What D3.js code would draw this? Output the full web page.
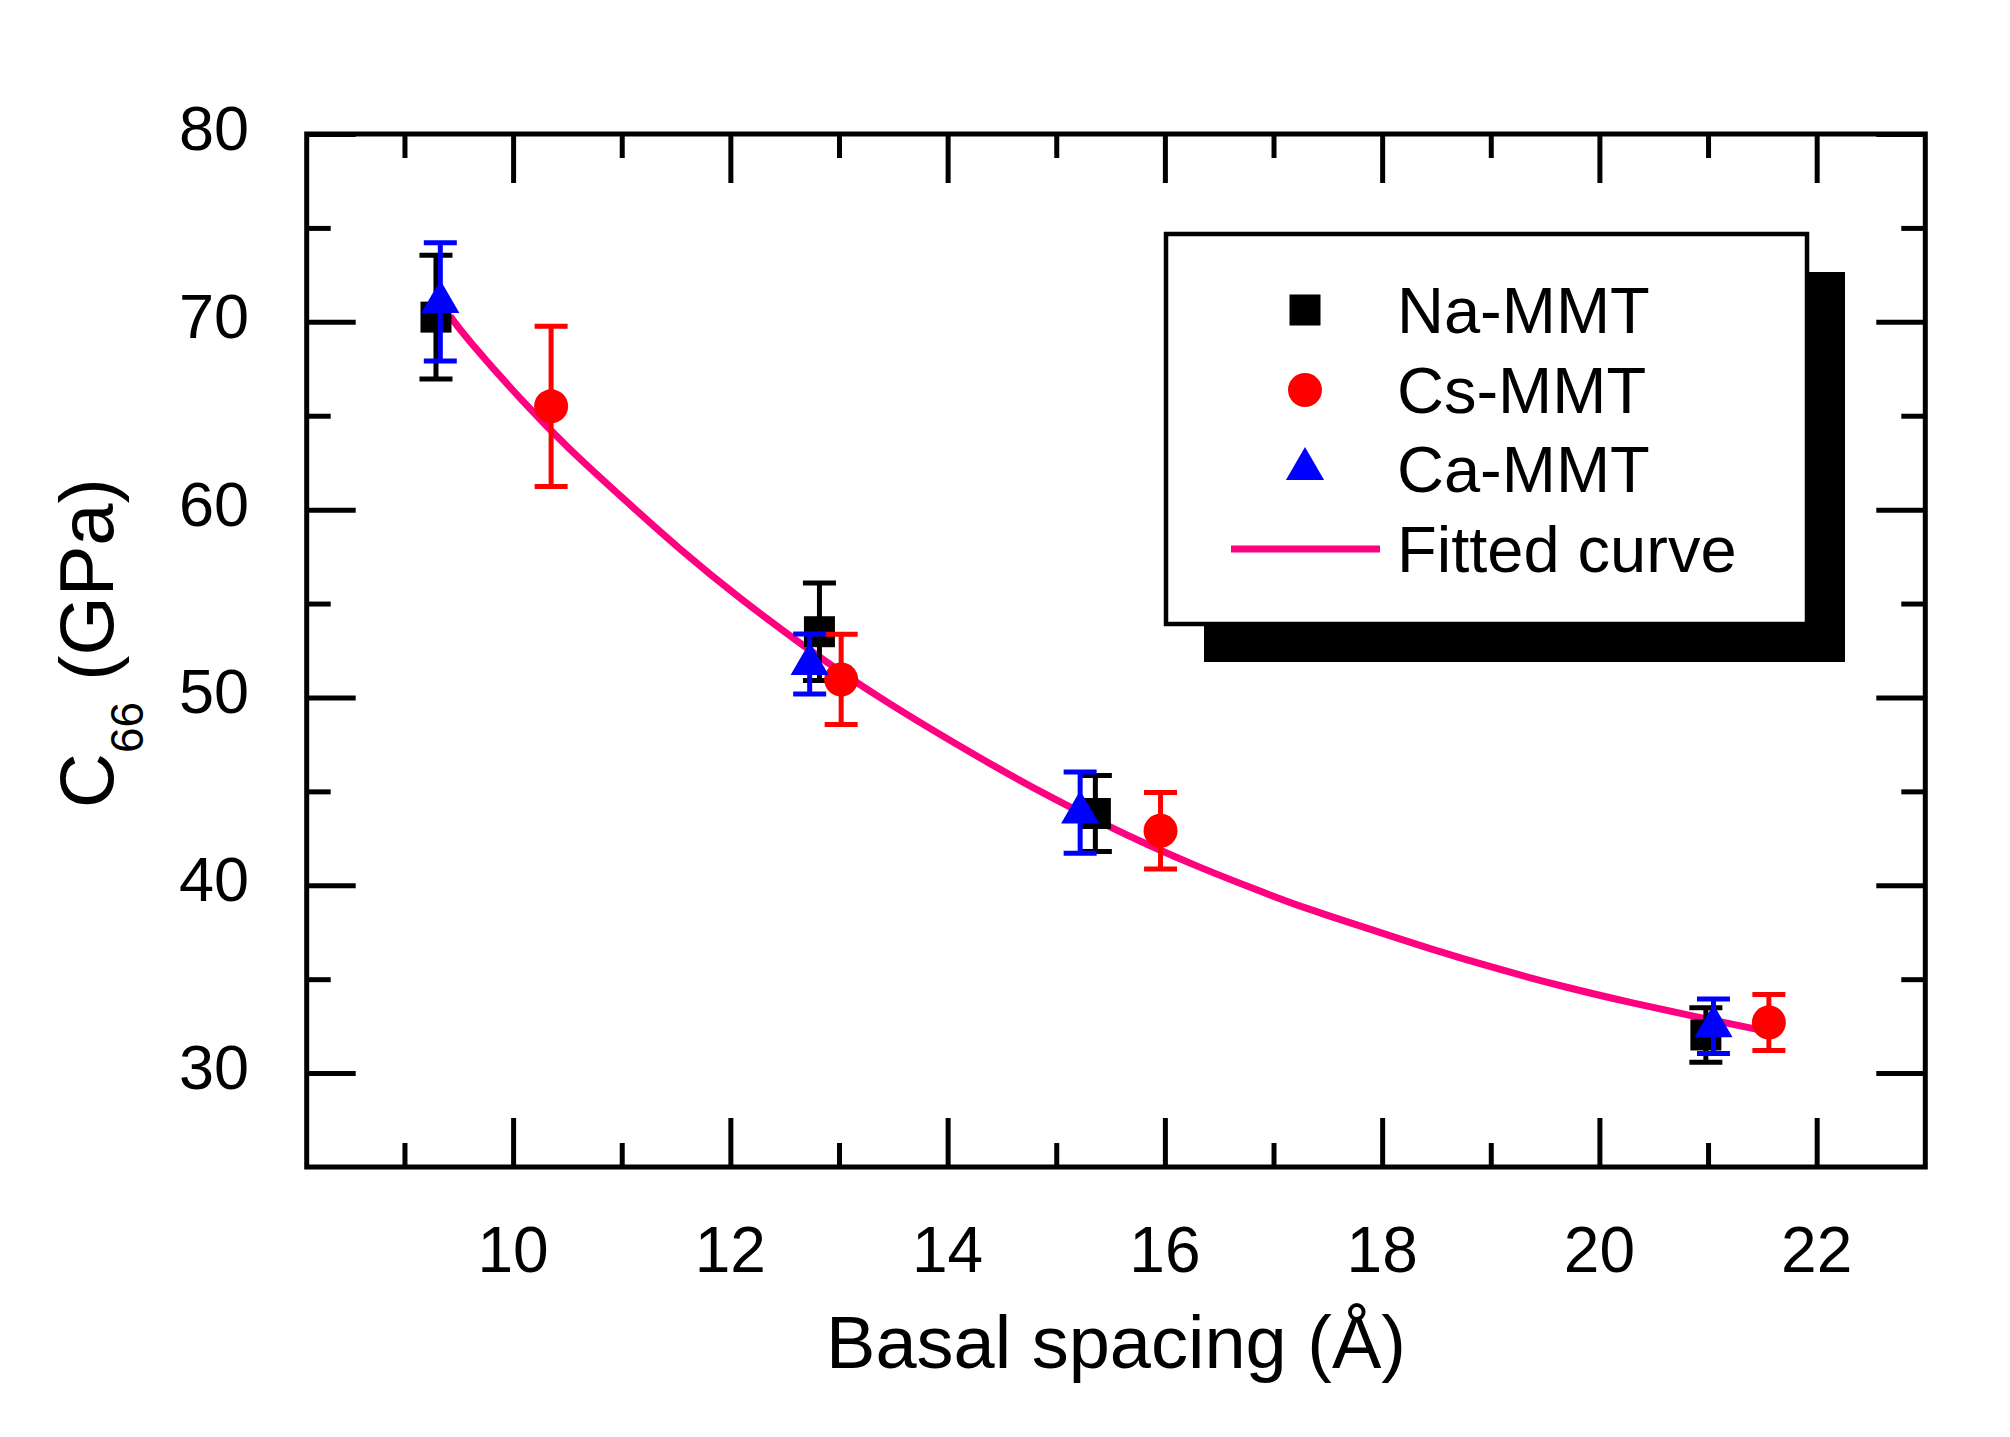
<!DOCTYPE html>
<html>
<head>
<meta charset="utf-8">
<script src="https://cdn.jsdelivr.net/npm/d3@7"></script>
<style>
  html, body { margin: 0; padding: 0; background: #fff; }
  svg text { font-family: "Liberation Sans", Arial, sans-serif; fill: #000; }
</style>
</head>
<body>
<div id="chart"></div>
<script>
// data
const naX = [9.29, 12.82, 15.36, 20.98];
const naY = [70.25, 53.5, 43.82, 32.03];
const naErr = [3.3, 2.6, 2.02, 1.45];

const csX = [10.35, 13.02, 15.96, 21.56];
const csY = [65.5, 50.96, 42.9, 32.69];
const csErr = [4.27, 2.4, 2.04, 1.49];

const caX = [9.33, 12.73, 15.22, 21.05];
const caY = [71.06, 51.78, 43.87, 32.49];
const caErr = [3.15, 1.6, 2.16, 1.45];

const fitX = [9.42, 9.56, 10.11, 10.5, 11.03, 11.55, 12.08, 12.61, 13.35, 14.48, 14.94, 15.4,
              15.86, 16.32, 16.78, 17.24, 17.86, 18.47, 19.09, 19.7, 20.31, 20.89, 21.39, 21.6];
const fitY = [70.3, 69.2, 65.6, 63.3, 60.5, 57.8, 55.3, 53.0, 50.0, 46.15, 44.72, 43.35,
              42.1, 40.95, 39.9, 38.87, 37.72, 36.56, 35.5, 34.55, 33.72, 33.0, 32.4, 32.15];

const xTicks = [10, 12, 14, 16, 18, 20, 22];
const xMinor = [9, 11, 13, 15, 17, 19, 21];
const yTicks = [30, 40, 50, 60, 70, 80];
const yMinor = [35, 45, 55, 65, 75];

const legendNames = ['Na-MMT', 'Cs-MMT', 'Ca-MMT', 'Fitted curve'];

const W = 2010, H = 1437;
const pLeft = 306.7, pRight = 1925.3, pTop = 134, pBottom = 1167;

const svg = d3.select('#chart').append('svg')
    .attr('width', W).attr('height', H);

const x = d3.scaleLinear().domain([8.1, 23]).range([pLeft, pRight]);
const y = d3.scaleLinear().domain([25, 80]).range([pBottom, pTop]);

// ticks on all four sides, pointing inward
const majLen = 49, minLen = 24, tickW = 5;
function tickAxis(axisFn, scale, vals, len, tr) {
    svg.append('g')
        .attr('transform', tr)
        .call(axisFn(scale).tickValues(vals).tickSize(len).tickFormat(''))
        .call(g => g.select('.domain').remove())
        .call(g => g.selectAll('line').attr('stroke', '#000').attr('stroke-width', tickW));
}
tickAxis(d3.axisTop, x, xTicks, majLen, `translate(0,${pBottom})`);
tickAxis(d3.axisTop, x, xMinor, minLen, `translate(0,${pBottom})`);
tickAxis(d3.axisBottom, x, xTicks, majLen, `translate(0,${pTop})`);
tickAxis(d3.axisBottom, x, xMinor, minLen, `translate(0,${pTop})`);
tickAxis(d3.axisRight, y, yTicks, majLen, `translate(${pLeft},0)`);
tickAxis(d3.axisRight, y, yMinor, minLen, `translate(${pLeft},0)`);
tickAxis(d3.axisLeft, y, yTicks, majLen, `translate(${pRight},0)`);
tickAxis(d3.axisLeft, y, yMinor, minLen, `translate(${pRight},0)`);

// frame
svg.append('rect')
    .attr('x', pLeft).attr('y', pTop)
    .attr('width', pRight - pLeft).attr('height', pBottom - pTop)
    .attr('fill', 'none').attr('stroke', '#000').attr('stroke-width', 5);

// tick labels
svg.append('g').selectAll('text')
    .data(xTicks).enter().append('text')
    .attr('x', d => x(d)).attr('y', 1272)
    .attr('text-anchor', 'middle')
    .attr('font-size', 64)
    .text(d => d);

svg.append('g').selectAll('text')
    .data(yTicks).enter().append('text')
    .attr('x', 249).attr('y', d => y(d) + 16)
    .attr('text-anchor', 'end')
    .attr('font-size', 63)
    .text(d => d);

// axis titles
svg.append('text')
    .attr('x', (pLeft + pRight) / 2).attr('y', 1368)
    .attr('text-anchor', 'middle')
    .attr('font-size', 74)
    .text('Basal spacing (Å)');

const yt = svg.append('text')
    .attr('transform', 'translate(113,643) rotate(-90)')
    .attr('text-anchor', 'middle')
    .attr('font-size', 76);
yt.append('tspan').text('C');
yt.append('tspan').attr('font-size', 46).attr('dy', 30).text('66');
yt.append('tspan').attr('dy', -30).text(' (GPa)');

// fitted curve, drawn under the markers
const line = d3.line()
    .x((d, i) => x(fitX[i]))
    .y(d => y(d))
    .curve(d3.curveBasis);

svg.append('path')
    .datum(fitY)
    .attr('d', line)
    .attr('fill', 'none')
    .attr('stroke', '#FF0080')
    .attr('stroke-width', 7);

// error bars + markers
const capHalf = 16.5;
function drawSeries(xs, ys, errs, color, symbol, size) {
    const g = svg.append('g');
    const pts = xs.map((v, i) => ({ x: v, y: ys[i], e: errs[i] }));
    g.selectAll('.bar').data(pts).enter().append('line')
        .attr('x1', d => x(d.x)).attr('x2', d => x(d.x))
        .attr('y1', d => y(d.y + d.e)).attr('y2', d => y(d.y - d.e))
        .attr('stroke', color).attr('stroke-width', 5);
    [1, -1].forEach(s => {
        g.selectAll('.cap' + s).data(pts).enter().append('line')
            .attr('x1', d => x(d.x) - capHalf).attr('x2', d => x(d.x) + capHalf)
            .attr('y1', d => y(d.y + s * d.e))
            .attr('y2', d => y(d.y + s * d.e))
            .attr('stroke', color).attr('stroke-width', 5);
    });
    g.selectAll('path').data(pts).enter().append('path')
        .attr('transform', d => `translate(${x(d.x)},${y(d.y)})`)
        .attr('d', d3.symbol().type(symbol).size(size))
        .attr('fill', color);
}
const sqSize = 31 * 31, cirSize = Math.PI * 17 * 17, triSize = 630;
drawSeries(naX, naY, naErr, '#000000', d3.symbolSquare, sqSize);
drawSeries(csX, csY, csErr, '#FF0000', d3.symbolCircle, cirSize);
drawSeries(caX, caY, caErr, '#0000FF', d3.symbolTriangle, triSize);

// legend with drop shadow
const lg = svg.append('g');
lg.append('rect')
    .attr('x', 1204).attr('y', 272).attr('width', 641).attr('height', 390)
    .attr('fill', '#000');
lg.append('rect')
    .attr('x', 1166).attr('y', 234).attr('width', 641).attr('height', 390)
    .attr('fill', '#fff').attr('stroke', '#000').attr('stroke-width', 4.5);

const rowY = [310, 390, 469, 549];
const legSyms = [
    { type: d3.symbolSquare, size: sqSize, color: '#000000' },
    { type: d3.symbolCircle, size: cirSize, color: '#FF0000' },
    { type: d3.symbolTriangle, size: triSize, color: '#0000FF' }
];
legSyms.forEach((s, i) => {
    lg.append('path')
        .attr('transform', `translate(1305,${rowY[i]})`)
        .attr('d', d3.symbol().type(s.type).size(s.size))
        .attr('fill', s.color);
});
lg.append('line')
    .attr('x1', 1231).attr('x2', 1380)
    .attr('y1', rowY[3]).attr('y2', rowY[3])
    .attr('stroke', '#FF0080').attr('stroke-width', 7);

lg.selectAll('text').data(legendNames).enter().append('text')
    .attr('x', 1397).attr('y', (d, i) => rowY[i] + 23)
    .attr('font-size', 65)
    .text(d => d);
</script>
</body>
</html>
